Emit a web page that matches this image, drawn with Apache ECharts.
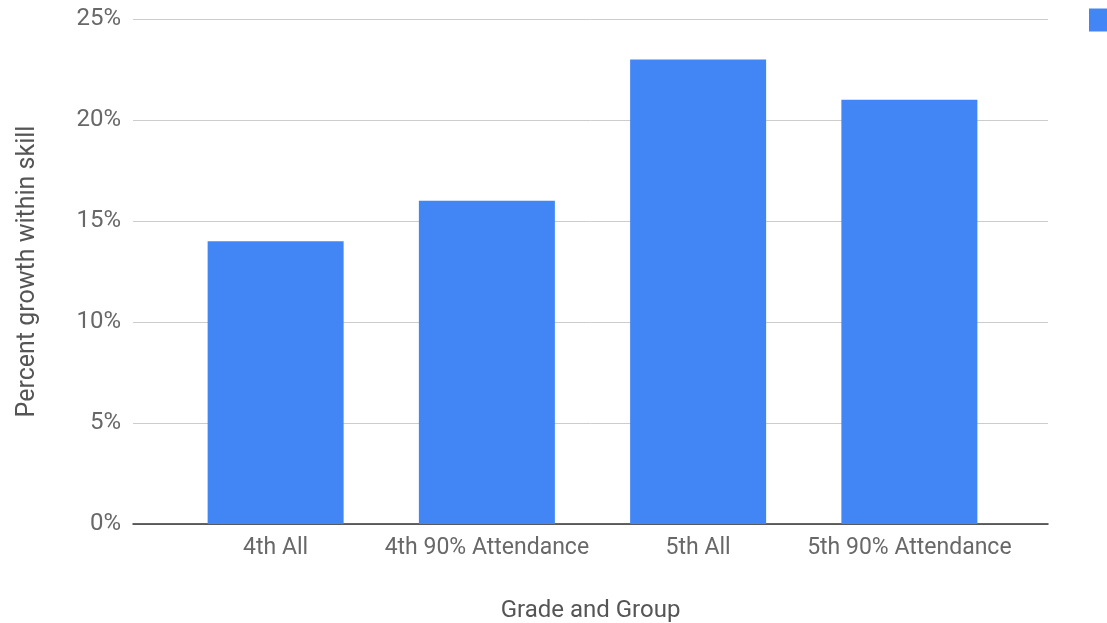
<!DOCTYPE html>
<html><head><meta charset="utf-8">
<script src="https://cdn.jsdelivr.net/npm/echarts@6/dist/echarts.min.js"></script>
<style>html,body{margin:0;padding:0;background:#fff}#c{width:1107px;height:623px}</style>
</head><body><div id="c"></div>
<script>
const categories = ['4th All', '4th 90% Attendance', '5th All', '5th 90% Attendance'];
const growth = [14, 16, 23, 21];
const seriesName = 'Percent growth within skill';
const yTicks = [0, 5, 10, 15, 20, 25];

const font = 'Roboto, "Noto Sans", sans-serif';
const chart = echarts.init(document.getElementById('c'));
chart.setOption({
  animation: false,
  legend: {
    left: 1084, top: 3, icon: 'rect', itemWidth: 23, itemHeight: 23,
    textStyle: {fontFamily: font, fontSize: 24, color: '#555'},
    data: [seriesName]
  },
  grid: [
    {left: 133, right: 59, top: 19, bottom: 99, outerBoundsMode: 'none', containLabel: false},
    {left: 170, right: 92, top: 19, bottom: 99, outerBoundsMode: 'none', containLabel: false}
  ],
  xAxis: [
    {gridIndex: 0, type: 'value', min: 0, max: 1, show: true,
     axisLine: {show: true, lineStyle: {color: '#333', width: 1.5}},
     axisTick: {show: false}, axisLabel: {show: false}, splitLine: {show: false},
     name: 'Grade and Group', nameLocation: 'middle', nameGap: 75,
     nameTextStyle: {fontFamily: font, fontSize: 24, color: '#555'}},
    {gridIndex: 1, type: 'category', data: categories,
     axisLine: {show: false}, axisTick: {show: false},
     axisLabel: {fontFamily: font, fontSize: 23, color: '#686868', margin: 13,
       interval: 0, hideOverlap: false}}
  ],
  yAxis: [
    {gridIndex: 0, type: 'value', min: 0, max: 25, interval: 5,
     axisLine: {show: false}, axisTick: {show: false},
     axisLabel: {fontFamily: font, fontSize: 24, color: '#686868', margin: 12,
       formatter: v => yTicks.includes(v) ? v + '%' : ''},
     splitLine: {lineStyle: {color: '#ccc', width: 1}},
     name: 'Percent growth within skill', nameLocation: 'middle', nameGap: 93,
     nameTextStyle: {fontFamily: font, fontSize: 25, color: '#555'}},
    {gridIndex: 1, type: 'value', min: 0, max: 25, interval: 5, show: false}
  ],
  series: [{
    name: seriesName, type: 'bar', xAxisIndex: 1, yAxisIndex: 1,
    data: growth, barWidth: 136, itemStyle: {color: '#4285f4'}, z: 1
  }]
});
</script></body></html>
